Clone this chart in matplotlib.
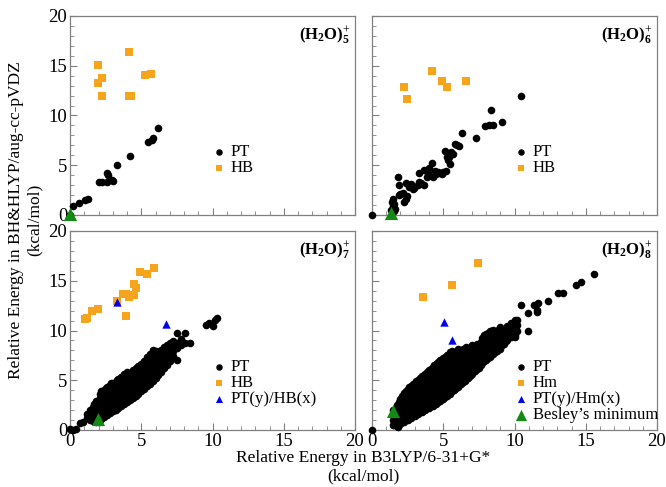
import matplotlib
matplotlib.use('Agg')
import matplotlib.pyplot as plt
from matplotlib.ticker import MultipleLocator

plt.rcParams['font.family'] = ['Liberation Serif', 'DejaVu Serif']
plt.rcParams['mathtext.fontset'] = 'custom'
plt.rcParams['mathtext.rm'] = 'Liberation Serif'
plt.rcParams['mathtext.bf'] = 'Liberation Serif:bold'
plt.rcParams['mathtext.it'] = 'Liberation Serif:italic'

# ---------------- data ----------------
# (H2O)5+
pt5_x = [0.0, 0.23, 0.61, 1.05, 1.24, 2.03, 2.22, 2.57, 2.69, 2.62, 2.92, 2.99, 3.29, 4.20, 5.47, 5.75, 5.84, 6.19]
pt5_y = [0.0, 0.94, 1.24, 1.51, 1.64, 3.32, 3.35, 4.19, 4.02, 3.28, 3.52, 3.42, 5.06, 5.93, 7.37, 7.50, 7.74, 8.78]
hb5_x = [1.95, 1.95, 2.25, 2.25, 4.15, 4.15, 4.30, 5.25, 5.70]
hb5_y = [15.05, 13.30, 13.80, 12.00, 16.40, 11.95, 12.00, 14.10, 14.20]
min5_x = [0.0]
min5_y = [0.15]

# (H2O)6+
pt6_x = [0.0, 10.45, 8.37, 9.10, 8.49, 8.23, 7.90, 7.30, 6.29, 5.82, 6.13, 5.96, 5.10, 5.54, 5.66, 5.42,
         5.31, 5.49, 5.24, 4.75, 4.51, 4.91, 4.18, 4.02, 3.67, 3.30, 3.93, 4.25, 3.83, 1.85, 1.89, 2.38,
         2.73, 2.62, 2.97, 2.85, 3.20, 3.44, 3.32, 3.62, 1.99, 2.15, 1.89, 2.36, 2.45, 2.27, 1.45, 1.40,
         1.56, 1.45, 1.61, 1.33, 1.52, 4.60, 4.40, 5.00, 5.20]
pt6_y = [0.0, 12.0, 10.52, 9.35, 9.08, 9.02, 8.91, 7.71, 8.27, 7.10, 6.94, 7.00, 6.47, 6.37, 6.10, 5.86,
         5.53, 5.09, 5.79, 4.25, 4.12, 4.12, 5.19, 4.69, 4.52, 4.25, 4.19, 3.85, 3.82, 3.79, 3.02, 3.18,
         3.12, 2.85, 2.75, 2.58, 3.02, 3.18, 3.35, 3.02, 2.11, 2.18, 2.01, 1.64, 1.91, 1.34, 1.64, 1.31,
         1.14, 0.87, 0.64, 0.47, 0.37, 4.35, 4.45, 4.30, 4.40]
hb6_x = [2.24, 2.45, 4.21, 4.91, 5.28, 6.57]
hb6_y = [12.83, 11.62, 14.44, 13.47, 12.83, 13.47]
min6_x = [1.3]
min6_y = [0.2]

# (H2O)7+ : PT cloud listed column by column (x, [y values])
pt7_cols = [
    (0.0, [0.1]), (0.2, [0.0]), (0.4, [0.12]), (0.7, [0.67]), (0.9, [0.85]),
    (1.2, [1.2, 1.6]), (1.4, [1.0, 1.5, 2.0]), (1.6, [0.9, 1.4, 1.9, 2.3]),
    (1.8, [0.8, 1.3, 1.8, 2.4, 2.9]), (2.0, [0.8, 1.3, 1.9, 2.5, 3.0]),
    (2.2, [1.1, 1.6, 2.2, 2.8, 3.4, 3.9]), (2.4, [1.3, 1.9, 2.4, 3.0, 3.5, 4.0]),
    (2.6, [1.5, 2.1, 2.7, 3.2, 3.8, 4.3]), (2.8, [1.7, 2.3, 2.9, 3.4, 4.0, 4.5]),
    (3.0, [1.9, 2.4, 3.0, 3.6, 4.1, 4.7]), (3.2, [2.0, 2.6, 3.2, 3.8, 4.3, 4.8]),
    (3.4, [2.2, 2.8, 3.4, 4.0, 4.6, 5.1]), (3.6, [2.4, 3.0, 3.6, 4.2, 4.8, 5.3]),
    (3.8, [2.6, 3.2, 3.8, 4.4, 5.0, 5.6]), (4.0, [2.8, 3.4, 4.0, 4.6, 5.2, 5.8]),
    (4.2, [3.0, 3.6, 4.2, 4.8, 5.3, 5.7]), (4.4, [3.2, 3.8, 4.4, 5.0, 5.5, 6.0]),
    (4.6, [3.4, 4.0, 4.6, 5.2, 5.7, 6.2]), (4.8, [3.6, 4.2, 4.8, 5.4, 5.9, 6.4]),
    (5.0, [3.9, 4.4, 5.0, 5.6, 6.1, 6.6]), (5.2, [4.1, 4.7, 5.3, 5.8, 6.3, 6.9]),
    (5.4, [4.4, 4.9, 5.5, 6.0, 6.6, 7.3]), (5.6, [4.6, 5.2, 5.8, 6.3, 6.9, 7.6]),
    (5.8, [4.9, 5.4, 6.0, 6.6, 7.2, 8.0]), (6.0, [5.2, 5.7, 6.3, 6.9, 7.4, 7.9]),
    (6.2, [5.5, 6.0, 6.6, 7.1, 7.6]), (6.4, [5.8, 6.3, 6.9, 7.4, 8.0]),
    (6.6, [6.2, 6.7, 7.2, 7.7, 8.3]), (6.8, [6.5, 7.0, 7.5, 8.0, 8.5]),
    (7.0, [6.9, 7.4, 7.8, 8.3, 8.7]), (7.2, [7.4, 7.9, 8.4, 8.9]),
    (7.5, [7.0, 8.2, 8.7, 9.7]), (7.8, [8.5, 9.1]), (8.1, [8.7, 9.7]), (8.4, [8.7]),
    (9.55, [10.6]), (9.75, [10.75]), (10.05, [10.5]), (10.15, [11.1]), (10.35, [11.3]),
    # in-between columns
    (1.3, [1.3]), (1.5, [1.2, 1.75]), (1.7, [1.1, 1.65, 2.1, 2.6]), (1.9, [1.05, 1.6, 2.15, 2.7]),
    (2.1, [1.0, 1.55, 2.1, 2.65, 3.2, 3.6]), (2.3, [1.35, 1.9, 2.5, 3.1, 3.65]),
    (2.5, [1.55, 2.15, 2.7, 3.25, 3.8, 4.2]), (2.7, [1.75, 2.35, 2.95, 3.5, 4.1]),
    (2.9, [1.95, 2.55, 3.15, 3.75, 4.3, 4.7]), (3.1, [2.15, 2.75, 3.35, 3.95, 4.5]),
    (3.3, [2.35, 2.95, 3.55, 4.1, 4.7, 5.0]), (3.5, [2.55, 3.15, 3.75, 4.35, 4.95]),
    (3.7, [2.75, 3.35, 3.95, 4.55, 5.15, 5.45]), (3.9, [2.95, 3.55, 4.15, 4.75, 5.35]),
    (4.1, [3.15, 3.75, 4.35, 4.95, 5.5]), (4.3, [3.35, 3.95, 4.55, 5.15, 5.75]),
    (4.5, [3.55, 4.15, 4.75, 5.35, 5.9]), (4.7, [3.8, 4.4, 5.0, 5.6, 6.2]),
    (4.9, [4.05, 4.6, 5.2, 5.8, 6.35]), (5.1, [4.3, 4.85, 5.45, 6.0, 6.6]),
    (5.3, [4.55, 5.1, 5.65, 6.2, 6.8]), (5.5, [4.8, 5.35, 5.9, 6.45, 7.1]),
    (5.7, [5.0, 5.55, 6.15, 6.75, 7.4]), (5.9, [5.3, 5.85, 6.45, 7.0, 7.6]),
    (6.1, [5.6, 6.15, 6.75, 7.3]), (6.3, [5.9, 6.45, 7.0, 7.55]),
    (6.5, [6.3, 6.85, 7.4, 7.9]), (6.7, [6.6, 7.15, 7.65, 8.15]),
    (6.9, [7.0, 7.55, 8.05]), (7.1, [7.6, 8.1, 8.6]),
]
hb7_x = [1.03, 1.22, 1.57, 1.99, 3.27, 3.93, 3.93, 4.33, 4.49, 4.49, 4.63, 4.91, 5.38, 5.89, 4.16, 3.74]
hb7_y = [11.12, 11.29, 11.93, 12.19, 13.00, 11.49, 13.67, 13.57, 13.57, 14.64, 14.24, 15.91, 15.64, 16.31, 13.33, 13.67]
tri7_x = [3.30, 6.76]
tri7_y = [12.90, 10.62]
min7_x = [1.94]
min7_y = [1.10]

# (H2O)8+ : PT cloud listed column by column (x, [y values])
pt8_cols = [
    (0.0, [0.0]), (1.57, [0.55]), (1.8, [0.35]),
    (1.50, [0.5, 1.0, 1.5, 2.0]), (1.75, [0.4, 0.9, 1.4, 2.0, 2.5]),
    (2.00, [0.6, 1.1, 1.6, 2.1, 2.6, 3.1]), (2.25, [0.8, 1.3, 1.8, 2.3, 2.8, 3.3, 3.7]),
    (2.50, [1.0, 1.5, 2.0, 2.6, 3.1, 3.6, 4.1]), (2.75, [1.2, 1.7, 2.2, 2.8, 3.3, 3.8, 4.4]),
    (3.00, [1.4, 1.9, 2.4, 3.0, 3.5, 4.1, 4.7]), (3.25, [1.6, 2.1, 2.7, 3.2, 3.8, 4.4, 5.0]),
    (3.50, [1.8, 2.3, 2.9, 3.5, 4.0, 4.6, 5.4]), (3.75, [2.0, 2.6, 3.1, 3.7, 4.3, 4.9, 5.6]),
    (4.00, [2.2, 2.8, 3.4, 3.9, 4.5, 5.2, 6.0]), (4.25, [2.4, 3.0, 3.6, 4.2, 4.8, 5.5, 6.3]),
    (4.50, [2.6, 3.2, 3.8, 4.4, 5.0, 5.7, 6.6]), (4.75, [2.9, 3.5, 4.1, 4.7, 5.3, 6.0, 7.0]),
    (5.00, [3.1, 3.7, 4.3, 4.9, 5.6, 6.3, 7.2]), (5.25, [3.4, 4.0, 4.6, 5.2, 5.9, 6.6, 7.5]),
    (5.50, [3.6, 4.2, 4.8, 5.4, 6.1, 6.9, 7.8]), (5.75, [4.0, 4.6, 5.2, 5.8, 6.4, 7.1]),
    (6.00, [4.3, 4.9, 5.5, 6.1, 6.7, 7.4, 8.1]), (6.25, [4.6, 5.2, 5.8, 6.4, 7.0, 7.6]),
    (6.50, [4.9, 5.5, 6.1, 6.7, 7.3, 7.9]), (6.75, [5.2, 5.8, 6.4, 7.0, 7.6, 8.2]),
    (7.00, [5.6, 6.2, 6.8, 7.3, 7.9, 8.5]), (7.25, [5.9, 6.5, 7.1, 7.7, 8.3]),
    (7.50, [6.2, 6.8, 7.4, 8.0, 8.6]), (7.75, [6.7, 7.3, 7.9, 8.5, 9.2]),
    (8.00, [7.0, 7.6, 8.2, 8.8, 9.6]), (8.25, [7.3, 7.9, 8.5, 9.1, 9.9]),
    (8.50, [7.6, 8.2, 8.8, 9.5, 10.1]), (8.75, [7.9, 8.8, 9.4, 10.0]),
    (9.00, [8.1, 9.0, 9.7, 10.4]), (9.25, [8.6, 9.3, 10.1]), (9.50, [9.0, 9.6, 10.5]),
    (9.75, [9.3, 10.2, 10.8]), (10.00, [9.3, 9.5, 10.3, 11.1]),
    (10.2, [9.95, 10.6, 11.1]), (10.95, [9.95, 11.73]), (10.45, [12.6]),
    (11.35, [12.55]), (11.65, [12.75]), (11.6, [11.9, 12.05]), (12.37, [13.0]),
    (13.05, [13.75]), (13.38, [13.75]), (14.32, [14.55]), (14.67, [14.9]), (15.6, [15.66]),
    # in-between columns
    (1.62, [0.75, 1.25, 1.8]), (1.88, [0.65, 1.2, 1.75, 2.3, 2.8]),
    (2.12, [0.9, 1.35, 1.9, 2.45, 2.9, 3.4]), (2.38, [1.1, 1.7, 2.25, 2.85, 3.35, 3.9]),
    (2.62, [1.3, 1.85, 2.4, 2.95, 3.5, 4.0, 4.35]), (2.88, [1.45, 2.05, 2.6, 3.15, 3.7, 4.25, 4.6]),
    (3.12, [1.6, 2.2, 2.8, 3.3, 3.85, 4.4, 4.95]), (3.38, [1.85, 2.45, 3.05, 3.6, 4.15, 4.75, 5.2]),
    (3.62, [2.05, 2.65, 3.25, 3.8, 4.4, 5.0, 5.5]), (3.88, [2.2, 2.85, 3.45, 4.05, 4.65, 5.25, 5.85]),
    (4.12, [2.45, 3.05, 3.7, 4.25, 4.85, 5.5, 6.1]), (4.38, [2.6, 3.25, 3.9, 4.5, 5.1, 5.75, 6.5]),
    (4.62, [2.85, 3.5, 4.1, 4.75, 5.35, 6.0, 6.8]), (4.88, [3.1, 3.75, 4.35, 5.0, 5.6, 6.3]),
    (5.12, [3.35, 3.95, 4.6, 5.25, 5.85, 6.6, 7.3]), (5.38, [3.6, 4.25, 4.85, 5.5, 6.2, 6.9]),
    (5.62, [3.9, 4.5, 5.1, 5.75, 6.4, 7.2, 7.9]), (5.88, [4.2, 4.8, 5.45, 6.1, 6.75, 7.5]),
    (6.12, [4.55, 5.15, 5.75, 6.4, 7.05, 7.8]), (6.38, [4.8, 5.45, 6.05, 6.7, 7.35, 8.1]),
    (6.62, [5.15, 5.75, 6.4, 7.0, 7.65, 8.3]), (6.88, [5.45, 6.05, 6.7, 7.3, 7.95]),
    (7.12, [5.8, 6.45, 7.05, 7.65, 8.25]), (7.38, [6.1, 6.7, 7.35, 7.95, 8.6]),
    (7.62, [6.5, 7.1, 7.7, 8.3, 8.8]), (7.88, [6.9, 7.5, 8.1, 8.7, 9.5]),
    (8.12, [7.2, 7.8, 8.45, 9.1, 9.7]), (8.38, [7.5, 8.15, 8.75, 9.4, 10.0]),
    (8.62, [7.8, 8.5, 9.1]), (8.88, [8.3, 9.2, 10.2]), (9.12, [8.5, 9.4]),
    (9.38, [8.9, 9.9]), (9.62, [9.3, 10.0]),
]
hm8_x = [3.60, 5.64, 7.44]
hm8_y = [13.41, 14.55, 16.77]
tri8_x = [5.03, 5.64]
tri8_y = [10.86, 9.05]
min8_x = [1.45]
min8_y = [1.90]

titles = ['5', '6', '7', '8']
xlabel = 'Relative Energy in B3LYP/6-31+G*\n(kcal/mol)'
ylabel = 'Relative Energy in BH&HLYP/aug-cc-pVDZ\n(kcal/mol)'


def expand(cols):
    xs, ys = [], []
    for x, yl in cols:
        for y in yl:
            xs.append(x)
            ys.append(y)
    return xs, ys


pt7_x, pt7_y = expand(pt7_cols)
pt8_x, pt8_y = expand(pt8_cols)

# ---------------- style ----------------
ORANGE = '#F7A41D'
BLUE = '#0000F0'
GREEN = '#138A13'
SPINE = '#808080'
S_PT, S_SQ, S_TRI, S_MIN = 30, 30, 36, 90

fig = plt.figure(figsize=(6.66, 4.87), dpi=100)
W, H = 666, 487
boxes = [(70, 16), (372, 16), (70, 231), (372, 231)]
axes = []
for (l, t) in boxes:
    ax = fig.add_axes([l / W, 1 - (t + 199) / H, 285 / W, 199 / H])
    axes.append(ax)

for i, ax in enumerate(axes):
    ax.set_xlim(0, 20)
    ax.set_ylim(0, 20)
    ax.xaxis.set_major_locator(MultipleLocator(5))
    ax.yaxis.set_major_locator(MultipleLocator(5))
    ax.xaxis.set_minor_locator(MultipleLocator(1))
    ax.yaxis.set_minor_locator(MultipleLocator(1))
    ax.tick_params(which='both', direction='in', top=False, right=False, color=SPINE,
                   labelsize=13.5, pad=2)
    ax.tick_params(which='major', length=5, width=0.8)
    ax.tick_params(which='minor', length=3, width=0.6)
    for sp in ax.spines.values():
        sp.set_color(SPINE)
        sp.set_linewidth(0.9)
    if i < 2:
        ax.tick_params(labelbottom=False)
    if i % 2 == 1:
        ax.tick_params(labelleft=False)
    ax.text(0.985, 0.955, r'$\mathbf{(H_2O)}_\mathbf{%s}^{+}$' % titles[i], transform=ax.transAxes,
            ha='right', va='top', fontsize=12)

def sc(ax, x, y, marker, color, s, label):
    ax.scatter(x, y, marker=marker, c=color, s=s, linewidths=0, label=label, clip_on=False, zorder=3)

ax = axes[0]
sc(ax, pt5_x, pt5_y, 'o', 'black', S_PT, 'PT')
sc(ax, hb5_x, hb5_y, 's', ORANGE, S_SQ, 'HB')
sc(ax, min5_x, min5_y, '^', GREEN, S_MIN, '_nolegend_')

ax = axes[1]
sc(ax, pt6_x, pt6_y, 'o', 'black', S_PT, 'PT')
sc(ax, hb6_x, hb6_y, 's', ORANGE, S_SQ, 'HB')
sc(ax, min6_x, min6_y, '^', GREEN, S_MIN, '_nolegend_')

ax = axes[2]
sc(ax, pt7_x, pt7_y, 'o', 'black', S_PT, 'PT')
sc(ax, hb7_x, hb7_y, 's', ORANGE, S_SQ, 'HB')
sc(ax, tri7_x, tri7_y, '^', BLUE, S_TRI, 'PT(y)/HB(x)')
sc(ax, min7_x, min7_y, '^', GREEN, S_MIN, '_nolegend_')

ax = axes[3]
sc(ax, pt8_x, pt8_y, 'o', 'black', S_PT, 'PT')
sc(ax, hm8_x, hm8_y, 's', ORANGE, S_SQ, 'Hm')
sc(ax, tri8_x, tri8_y, '^', BLUE, S_TRI, 'PT(y)/Hm(x)')
sc(ax, min8_x, min8_y, '^', GREEN, S_MIN, "Besley\u2019s minimum")

for ax in axes:
    ax.legend(loc='upper left', bbox_to_anchor=(0.5, 0.355), frameon=False, fontsize=12,
              handlelength=0.8, handletextpad=0.3, labelspacing=0.0, borderpad=0.0,
              borderaxespad=0.0, scatterpoints=1, markerscale=0.85)

fig.text(0.545, 0.005, xlabel, ha='center', va='bottom', fontsize=12.5, linespacing=1.2)
fig.text(0.012, 0.548, ylabel, ha='left', va='center', rotation=90, fontsize=12.5,
         linespacing=1.2, multialignment='center')

fig.savefig('out.png', dpi=100)
